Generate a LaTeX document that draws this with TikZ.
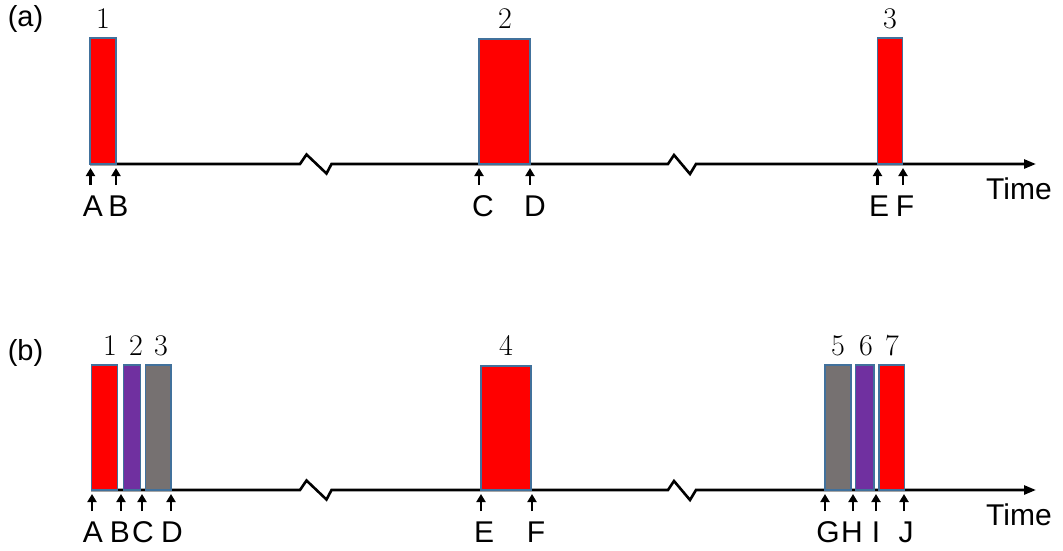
\documentclass[tikz,border=0pt]{standalone}
\usepackage{fontspec}
\newfontfamily\arial{Liberation Sans}
\usetikzlibrary{arrows.meta}
\definecolor{pred}{HTML}{FF0000}
\definecolor{ppurple}{HTML}{7030A0}
\definecolor{pgray}{HTML}{767171}
\definecolor{pedge}{HTML}{41719C}
\begin{document}
\begin{tikzpicture}[x=1pt,y=-1pt,
  bar/.style={draw=pedge,line width=1.2pt,inner sep=0pt,outer sep=0pt,anchor=south west},
  axis/.style={line width=2.6pt,-{Triangle[length=12pt,width=9pt]}},
  tick/.style={line width=2.4pt,-{Triangle[length=8pt,width=9pt]}},
  lett/.style={font=\arial\fontsize{30}{30}\selectfont,anchor=base,inner sep=0pt},
  num/.style={font=\fontsize{30}{30}\selectfont,anchor=base,inner sep=0pt},
  panel/.style={font=\arial\fontsize{29}{29}\selectfont,anchor=base,inner sep=0pt}]
\useasboundingbox (0,0) rectangle (1063,550);

% ---------------- panel (a)
\node[panel] (pa) at (25.5,26.7) {(a)};
\coordinate (a0) at (90,164);
\coordinate (aend) at (1036,164);
\draw[axis] (a0) -- (300,164) -- (306.5,154.5) -- (326.5,173.5) -- (331.5,164)
  -- (668,164) -- (674,155) -- (690,174) -- (696,164) -- (aend);
\node[bar,fill=pred,minimum width=26pt,minimum height=126pt] (a1) at (90,164) {};
\node[bar,fill=pred,minimum width=51pt,minimum height=125pt] (a2) at (479,164) {};
\node[bar,fill=pred,minimum width=25.5pt,minimum height=126pt] (a3) at (877.3,164) {};
\node[num] (na1) at (103,28.5) {1};
\node[num] (na2) at (505,28.5) {2};
\node[num] (na3) at (890,28.5) {3};
\foreach \n/\x/\lx in {A/90.5/93,B/116/118.5,C/479/483,D/530/535,E/877.5/879,F/903/905}{
  \coordinate (ta\n) at (\x,185);
  \draw[tick] (ta\n) -- (\x,168);
  \node[lett] (la\n) at (\lx,216) {\n};
}
\node[lett] (timea) at (1019,199) {Time};

% ---------------- panel (b)
\node[panel] (pb) at (25.5,360) {(b)};
\coordinate (b0) at (91,490);
\coordinate (bend) at (1036,490);
\draw[axis] (b0) -- (300,490) -- (306.5,480.5) -- (326.5,499.5) -- (331.5,490)
  -- (668,490) -- (674,481) -- (690,500) -- (696,490) -- (bend);
\node[bar,fill=pred,minimum width=26pt,minimum height=125pt] (b1) at (91.7,490) {};
\node[bar,fill=ppurple,minimum width=17pt,minimum height=125pt] (b2) at (123.3,490) {};
\node[bar,fill=pgray,minimum width=25.3pt,minimum height=125pt] (b3) at (145.7,490) {};
\node[bar,fill=pred,minimum width=50pt,minimum height=124pt] (b4) at (481,490) {};
\node[bar,fill=pgray,minimum width=26pt,minimum height=125pt] (b5) at (825,490) {};
\node[bar,fill=ppurple,minimum width=18.7pt,minimum height=125pt] (b6) at (855.3,490) {};
\node[bar,fill=pred,minimum width=25.7pt,minimum height=125pt] (b7) at (879,490) {};
\node[num] (nb1) at (110,355) {1};
\node[num] (nb2) at (136,355) {2};
\node[num] (nb3) at (161,355) {3};
\node[num] (nb4) at (506,355) {4};
\node[num] (nb5) at (838,355) {5};
\node[num] (nb6) at (866,355) {6};
\node[num] (nb7) at (892,355) {7};
\foreach \n/\x/\lx in {A/92/93,B/121/120,C/142/143,D/171/172,E/481/484,F/532/536,G/825/828,H/853/852,I/876/876,J/904/906}{
  \coordinate (tb\n) at (\x,511);
  \draw[tick] (tb\n) -- (\x,494);
  \node[lett] (lb\n) at (\lx,542) {\n};
}
\node[lett] (timeb) at (1019,525) {Time};
\end{tikzpicture}
\end{document}
